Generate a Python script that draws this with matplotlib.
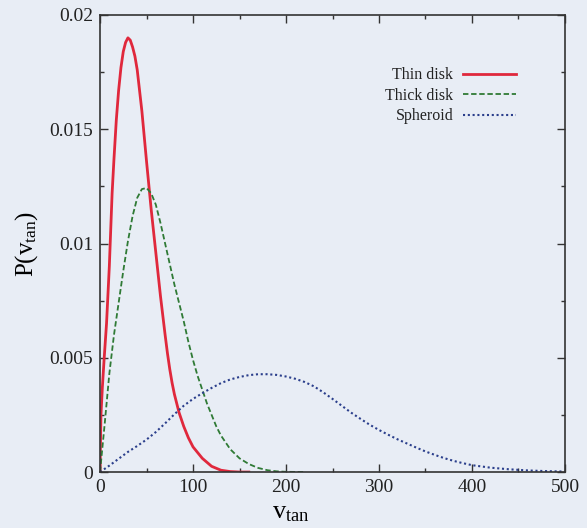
import matplotlib
matplotlib.use("Agg")
import matplotlib.pyplot as plt
from matplotlib.ticker import MultipleLocator, FuncFormatter

# tangential velocity distributions for the three galactic components
thin_v = [0, 1, 2.5, 4.5, 7, 10, 13, 15, 17.5, 20, 22.5, 25, 27.5, 30, 32.5,
          35, 37.5, 40, 45, 50, 55, 60, 65, 70, 72.5, 75, 77.5, 80, 85, 90,
          95, 100, 110, 120, 130, 140, 150, 160]
thin_p = [0, 0.0025, 0.0037, 0.0050, 0.0065, 0.0090, 0.0122, 0.0137, 0.0154,
          0.0167, 0.0177, 0.0184, 0.0188, 0.0190, 0.0189, 0.0186, 0.0182,
          0.0176, 0.0158, 0.0136, 0.0115, 0.0096, 0.0077, 0.0060, 0.0052,
          0.0045, 0.0039, 0.0034, 0.0026, 0.0020, 0.0015, 0.0011, 0.0006,
          0.00025, 0.00008, 0.00002, 0, 0]

thick_v = [0, 5, 10, 15, 20, 25, 30, 35, 40, 45, 50, 55, 60, 65, 70, 75, 80,
           85, 90, 95, 100, 105, 110, 115, 120, 125, 130, 135, 140, 145, 150,
           160, 170, 180, 190, 200, 220]
thick_p = [0, 0.0021, 0.0043, 0.0060, 0.0074, 0.0088, 0.0101, 0.0112, 0.0120,
           0.01238, 0.01243, 0.0122, 0.0117, 0.0109, 0.0100, 0.0091, 0.0082,
           0.0074, 0.0066, 0.0057, 0.0049, 0.0042, 0.0036, 0.0030, 0.0025,
           0.0020, 0.0016, 0.0013, 0.0010, 0.0008, 0.0006, 0.00035, 0.00018,
           0.00008, 0.00003, 0.00001, 0]

sph_v = [0, 10, 20, 30, 40, 50, 60, 70, 80, 90, 100, 110, 120, 130, 140, 150,
         160, 170, 180, 190, 200, 210, 220, 230, 240, 250, 260, 270, 280, 290,
         300, 310, 320, 330, 340, 350, 360, 370, 380, 390, 400, 420, 440, 460,
         480, 500]
sph_p = [0, 0.00028, 0.00058, 0.00088, 0.00114, 0.00142, 0.00175, 0.00213,
         0.00253, 0.0029, 0.0032, 0.00345, 0.00368, 0.00389, 0.00405,
         0.00416, 0.00424, 0.00428, 0.00428, 0.00425, 0.00418, 0.00408,
         0.00394, 0.00375, 0.00349, 0.0032, 0.0029, 0.0026, 0.00233, 0.00207,
         0.00184, 0.00163, 0.00143, 0.00125, 0.00107, 0.0009, 0.00075,
         0.00061, 0.00049, 0.00039, 0.0003, 0.00019, 0.00012, 0.00007,
         0.00004, 0.00002]

bg = "#e8edf5"
plt.rcParams["font.family"] = ["Liberation Serif", "DejaVu Serif"]
plt.rcParams["mathtext.fontset"] = "custom"
plt.rcParams["mathtext.rm"] = "Liberation Serif"

fig = plt.figure(figsize=(5.87, 5.28), dpi=100, facecolor=bg)
ax = fig.add_axes([0.1704, 0.106, 0.7921, 0.8656], facecolor=bg)

ax.plot(thin_v, thin_p, color="#e0283c", lw=2.0, label="Thin disk")
ax.plot(thick_v, thick_p, color="#2f7a35", lw=1.3, dashes=(3, 1.5),
        label="Thick disk")
ax.plot(sph_v, sph_p, color="#2b3f8c", lw=1.5, dashes=(1, 1.3),
        label="Spheroid")

ax.set_xlim(0, 500)
ax.set_ylim(0, 0.02)
ax.xaxis.set_major_locator(MultipleLocator(100))
ax.xaxis.set_minor_locator(MultipleLocator(50))
ax.yaxis.set_major_locator(MultipleLocator(0.005))
ax.yaxis.set_minor_locator(MultipleLocator(0.0025))
ax.yaxis.set_major_formatter(FuncFormatter(lambda y, _: "%g" % round(y, 4)))
ax.tick_params(which="both", direction="in", top=True, right=True,
               colors="#333333", labelcolor="#222222", labelsize=14, width=1.0)
ax.tick_params(which="major", length=6, pad=5)
ax.tick_params(which="minor", length=3)
for s in ax.spines.values():
    s.set_color("#333333")
    s.set_linewidth(1.2)

ax.set_xlabel(r"$\mathregular{v_{tan}}$", fontsize=19)
ax.xaxis.set_label_coords(0.41, -0.065)
ax.set_ylabel(r"$\mathregular{P(v_{tan})}$", fontsize=18)
ax.yaxis.set_label_coords(-0.13, 0.5)

leg = ax.legend(loc="upper right", bbox_to_anchor=(0.925, 0.917),
                frameon=False, markerfirst=False, fontsize=11.5,
                handlelength=3.3, labelspacing=0.28, handletextpad=0.6)
for t in leg.get_texts():
    t.set_color("#222222")

fig.savefig("out.png", dpi=100, facecolor=bg)
